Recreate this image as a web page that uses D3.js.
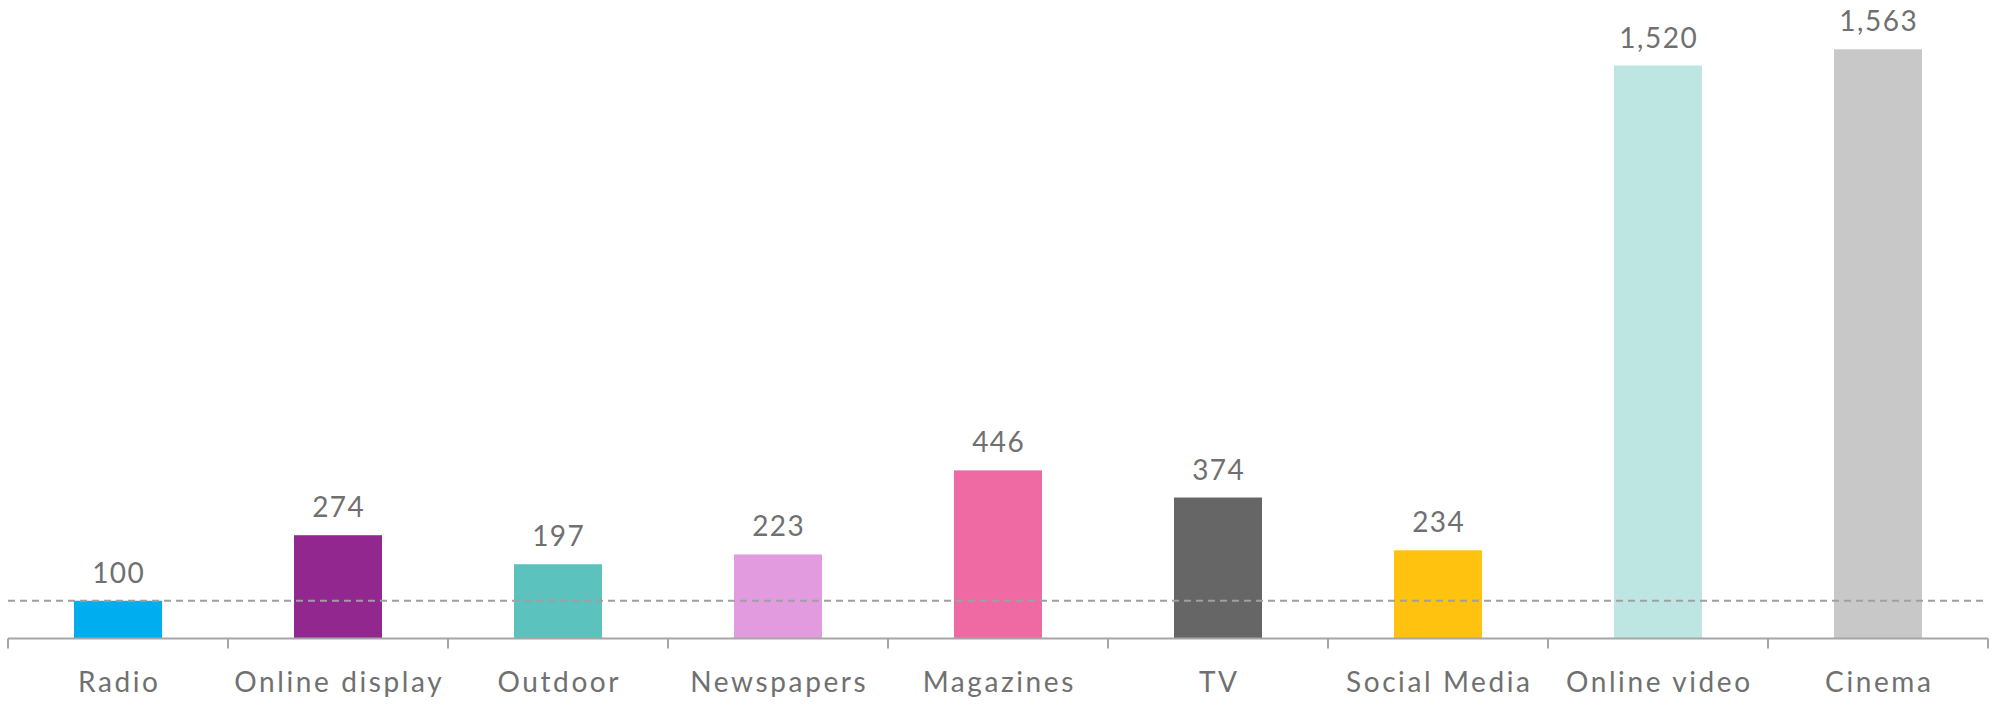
<!DOCTYPE html>
<html>
<head>
<meta charset="utf-8">
<script src="https://cdn.jsdelivr.net/npm/d3@7"></script>
<style>
  html, body { margin: 0; padding: 0; background: #ffffff; }
  svg { display: block; }
  text { font-family: "Lato", "Open Sans", sans-serif; fill: #707070; }
</style>
</head>
<body>
<svg id="chart" width="2000" height="706"></svg>
<script>
const categories = ["Radio", "Online display", "Outdoor", "Newspapers", "Magazines", "TV", "Social Media", "Online video", "Cinema"];
const values = [100, 274, 197, 223, 446, 374, 234, 1520, 1563];
const colors = ["#00AEEF", "#92278F", "#5BC2BD", "#E39BE0", "#EF6AA3", "#666666", "#FFC20E", "#BDE6E3", "#C8C8C8"];
const referenceValue = 100;

const svg = d3.select("#chart");
const x0 = 8, x1 = 1988, yBase = 638.5;

const x = d3.scaleBand().domain(categories).range([x0, x1]).paddingInner(0.6).paddingOuter(0.3);
const y = d3.scaleLinear().domain([0, 1563]).range([yBase, 49.3]);

// bars
svg.append("g").selectAll("rect").data(categories).join("rect")
  .attr("x", d => x(d))
  .attr("y", (d, i) => y(values[i]))
  .attr("width", x.bandwidth())
  .attr("height", (d, i) => yBase - y(values[i]))
  .attr("fill", (d, i) => colors[i]);

// reference dashed line
svg.append("line")
  .attr("x1", x0).attr("x2", x1 - 5)
  .attr("y1", y(referenceValue)).attr("y2", y(referenceValue))
  .attr("stroke", "#a0a0a0").attr("stroke-width", 2)
  .attr("stroke-dasharray", "7,5");

// axis line and ticks at band boundaries
const axis = svg.append("g");
axis.append("line")
  .attr("x1", x0).attr("x2", x1)
  .attr("y1", yBase).attr("y2", yBase)
  .attr("stroke", "#a6a6a6").attr("stroke-width", 2);
const boundaries = categories.map(d => x(d) - x.step() * x.paddingInner() / 2).concat([x1]);
axis.selectAll("line.tick").data(boundaries).join("line")
  .attr("class", "tick")
  .attr("x1", d => d).attr("x2", d => d)
  .attr("y1", yBase).attr("y2", yBase + 10)
  .attr("stroke", "#a6a6a6").attr("stroke-width", 2);

// category labels
const labelSpacing = 2.6;
axis.selectAll("text").data(categories).join("text")
  .attr("x", d => x(d) + x.bandwidth() / 2 + labelSpacing / 2)
  .attr("y", 691.7)
  .attr("text-anchor", "middle")
  .attr("font-size", 28)
  .attr("letter-spacing", labelSpacing)
  .text(d => d);

// value labels
const valueSpacing = 1.5;
const fmt = d3.format(",");
svg.append("g").selectAll("text").data(categories).join("text")
  .attr("x", d => x(d) + x.bandwidth() / 2 + valueSpacing / 2)
  .attr("y", (d, i) => y(values[i]) - 18)
  .attr("text-anchor", "middle")
  .attr("font-size", 28)
  .attr("letter-spacing", valueSpacing)
  .text((d, i) => fmt(values[i]));
</script>
</body>
</html>
